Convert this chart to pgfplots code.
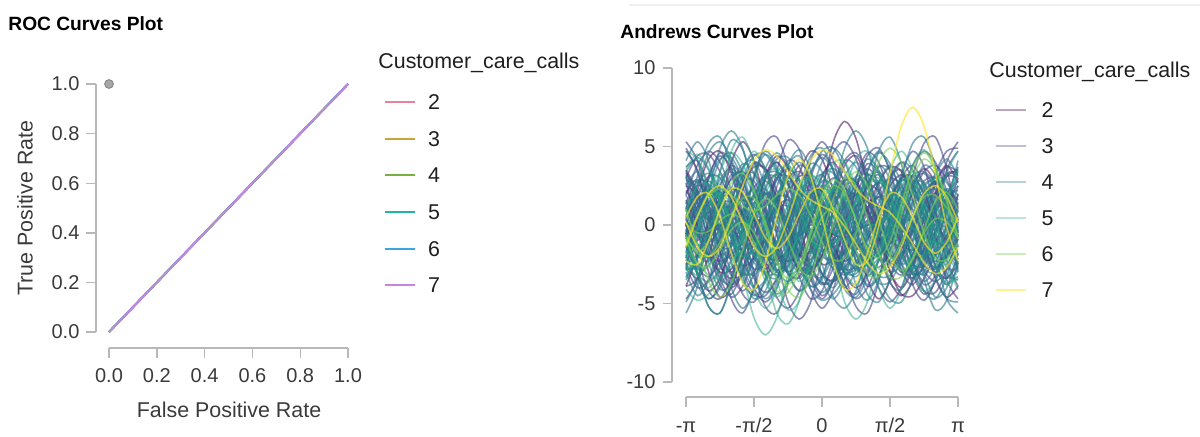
\documentclass[border=0pt]{standalone}
\usepackage{fontspec}
\setmainfont{Liberation Sans}
\usepackage{pgfplots}
\usepackage{pgfplotstable}
\pgfplotsset{compat=1.18}

\definecolor{axgray}{HTML}{B8B8B8}
\definecolor{txtgray}{HTML}{3A3A3A}
% ROC palette
\definecolor{r2}{HTML}{E8829A}
\definecolor{r3}{HTML}{C8A539}
\definecolor{r4}{HTML}{77B03F}
\definecolor{r5}{HTML}{1EB5A5}
\definecolor{r6}{HTML}{3AA6DD}
\definecolor{r7}{HTML}{C685DE}
% viridis for the Andrews curves
\definecolor{v2}{HTML}{440154}
\definecolor{v3}{HTML}{414487}
\definecolor{v4}{HTML}{2A788E}
\definecolor{v5}{HTML}{22A884}
\definecolor{v6}{HTML}{7AD151}
\definecolor{v7}{HTML}{FDE725}

% Andrews curves, one column per observation, t from -pi to pi
\pgfplotstableread{
t c1 c2 c3 c4 c5 c6 c7 c8 c9 c10 c11 c12 c13 c14 c15 c16 c17 c18 c19 c20 c21 c22 c23 c24 c25 c26 c27 c28 c29 c30
-3.1416 3.5 -2.5 0 0.5 1.4 -2.5 -3.3 1.4 3.4 -0.7 -4.9 1.9 0.1 0.9 0.4 2.0 0.4 -2.9 -1.1 -2.5 2.8 2.7 -2.3 -1.4 -1.9 -0.1 4.7 -1.4 -0.9 -0.5
-2.8798 2.1 -1.9 -1.6 2.6 1.0 -3.4 -2.1 2.8 1.6 -3.1 -3.4 3.8 -2.2 -0.2 3.1 2.9 -1.2 -2.2 0.6 -3.2 2.7 -0.1 -2.5 0.5 -0.4 0.5 3.5 0.5 -2.5 -1.8
-2.6180 -0.4 -0.3 -2.0 3.3 0.3 -2.0 -0.5 2.6 -1.0 -4.2 -0.9 4.7 -4.2 -0.8 5.2 1.3 -1.9 -0.3 1.9 -2.2 1.6 -3.0 -1.0 2.0 1.3 0.4 0.6 2.0 -2.6 -2.0
-2.3562 -2.6 1.3 -0.8 2.2 0 1.0 0.4 1.0 -3.4 -3.4 1.7 4.0 -4.7 -1.1 5.6 -1.8 -1.1 1.5 2.3 -0.3 0.3 -4.6 1.0 2.0 2.0 -0.3 -2.4 2.5 -1.6 -0.5
-2.0944 -3.4 1.4 1.5 -0.3 0.3 4.0 0.2 -0.8 -4.6 -1.2 3.2 2.2 -3.3 -1.2 3.6 -4.7 0.8 2.1 1.9 1.3 -0.1 -4.0 2.3 0.1 1.3 -0.7 -3.8 1.8 -0.3 1.8
-1.8326 -2.1 -0.3 3.6 -2.7 1.0 5.3 -0.8 -1.6 -3.9 0.9 3.2 0.3 -0.7 -1.7 0.1 -5.6 3.0 1.0 1.2 1.4 0.6 -1.8 2.1 -3.1 -0.4 -0.3 -2.9 0.2 0.2 3.7
-1.5708 0.5 -3.0 4.5 -4.0 1.4 4.1 -1.8 -0.8 -2.0 1.8 1.9 -0.6 1.8 -2.4 -3.2 -3.9 4.4 -1.3 0.9 -0.3 2.0 0.7 0.7 -5.9 -1.9 1.1 -0.3 -1.4 -0.5 4.1
-1.3090 3.1 -5.2 3.6 -3.5 1.0 1.3 -2.0 1.1 0.2 0.8 0.1 -0.1 2.8 -3.2 -4.7 -0.3 4.5 -3.6 1.2 -3.1 3.1 2.0 -0.8 -7.0 -2.3 2.9 2.3 -2.0 -2.0 2.4
-1.0472 4.4 -5.6 1.5 -1.8 -0.3 -1.7 -1.1 2.9 1.7 -1.3 -1.1 1.5 1.8 -3.4 -3.7 3.4 3.4 -4.6 1.9 -5.6 3.0 1.6 -1.5 -5.9 -1.1 4.2 3.2 -1.4 -3.4 -0.5
-0.7854 3.6 -3.7 -0.8 0.1 -2.0 -3.0 0.5 3.6 1.8 -3.1 -1.2 3.0 -0.7 -2.6 -0.9 5.4 1.9 -3.7 2.3 -6.3 1.4 -0.1 -0.8 -3.1 1.0 4.3 1.8 0.4 -3.8 -3.1
-0.5236 1.4 -0.3 -2.0 0.7 -3.1 -2.0 1.7 2.8 0.7 -3.3 -0.4 3.4 -3.3 -0.8 2.2 4.8 0.7 -1.6 1.9 -4.8 -1.2 -1.8 0.7 0.1 2.7 2.9 -1.2 2.5 -2.9 -4.2
-0.2618 -1.1 3.0 -1.6 -0.3 -3.0 0.6 1.7 0.9 -0.9 -1.3 0.7 2.5 -4.7 1.3 3.9 2.3 0.3 0.7 0.6 -1.7 -3.4 -2.2 2.1 2.0 2.8 0.6 -4.1 4.1 -1.1 -3.1
0 -2.5 4.5 0 -2.5 -1.4 3.1 0.2 -0.8 -2.0 2.1 1.3 0.5 -4.2 3.1 3.4 -0.7 0.4 1.7 -1.1 1.7 -4.3 -0.9 2.3 2.0 0.9 -1.5 -5.3 4.8 0.5 -0.5
0.2618 -2.1 3.5 1.9 -4.6 1.0 4.0 -2.1 -1.2 -2.2 5.3 0.9 -1.4 -2.2 3.6 1.1 -2.3 0.5 1.0 -2.2 3.9 -3.5 1.6 1.0 0.5 -2.1 -2.5 -4.1 4.4 1.1 2.4
0.5236 -0.4 0.8 3.0 -5.3 3.1 2.6 -4.1 0.1 -1.6 6.6 -0.1 -2.3 0.1 2.8 -1.4 -1.7 0.1 -0.9 -2.1 4.0 -1.4 3.8 -1.0 -1.4 -4.9 -2.0 -1.2 3.4 0.2 4.1
0.7854 1.6 -2.3 2.8 -4.2 4.0 -0.4 -4.6 2.4 -0.6 5.5 -1.2 -1.6 1.3 1.1 -2.9 0.4 -1.1 -2.7 -0.5 2.5 0.9 4.4 -2.5 -2.5 -6.0 -0.3 1.8 2.3 -1.6 3.7
1.0472 2.6 -3.9 1.5 -1.8 3.1 -3.4 -3.3 4.4 0.0 2.6 -1.6 0.2 0.9 -0.8 -2.4 2.5 -2.6 -3.3 1.9 0.5 2.0 2.8 -2.3 -2.1 -4.9 1.7 3.2 1.6 -3.1 1.8
1.3090 2.1 -3.3 0.1 0.7 1.0 -4.7 -0.8 4.9 -0.1 -0.5 -1.2 2.1 -0.7 -1.8 -0.4 3.2 -3.7 -2.2 4.0 -0.7 1.6 -0.1 -0.1 -0.5 -2.1 2.8 2.3 1.2 -3.3 -0.5
1.5708 0.5 -1.0 -0.5 2.0 -1.4 -3.5 1.7 3.4 -0.6 -2.4 -0.3 3.0 -2.5 -1.6 1.8 1.8 -3.6 0.1 4.9 -0.5 -0.1 -2.9 3.3 1.3 0.9 2.5 -0.3 0.8 -1.9 -2.0
1.8326 -1.1 1.6 0.1 1.5 -3.0 -0.7 3.0 0.5 -0.8 -2.1 0.4 2.5 -3.2 -0.3 2.9 -1.1 -2.2 2.4 4.0 0.8 -1.9 -4.0 6.3 2.0 2.8 1.1 -2.9 -0.1 0.6 -1.8
2.0944 -1.6 3.1 1.5 -0.3 -3.1 2.3 2.5 -2.3 -0.3 -0.3 0.1 0.9 -2.5 1.4 2.3 -3.8 0.0 3.4 1.9 2.2 -2.8 -2.8 7.5 1.3 2.7 -0.6 -3.8 -1.2 3.0 -0.5
2.3562 -0.6 2.7 2.8 -2.1 -2.0 3.6 0.5 -3.8 1.0 1.8 -1.3 -0.6 -0.7 2.6 0.6 -4.8 1.9 2.5 -0.5 2.5 -2.2 -0.1 6.3 -0.5 1.0 -1.8 -2.4 -2.4 4.2 1.1
2.6180 1.4 0.8 3.0 -2.7 -0.3 2.6 -1.8 -3.2 2.7 2.7 -3.3 -1.0 0.9 2.8 -1.0 -3.5 2.7 0.4 -2.1 1.4 -0.4 2.6 3.3 -2.1 -1.1 -1.9 0.6 -3.1 3.5 1.8
2.8798 3.1 -1.4 1.9 -1.7 1.0 0.0 -3.3 -1.0 3.7 1.7 -4.7 -0.1 1.3 2.1 -1.2 -0.7 2.0 -1.9 -2.2 -0.6 1.6 3.8 -0.1 -2.5 -2.3 -1.1 3.5 -2.7 1.5 1.1
3.1416 3.5 -2.5 0 0.5 1.4 -2.5 -3.3 1.4 3.4 -0.7 -4.9 1.9 0.1 0.9 0.4 2.0 0.4 -2.9 -1.1 -2.5 2.8 2.7 -2.3 -1.4 -1.9 -0.1 4.7 -1.4 -0.9 -0.5
}\andrewsA

\pgfplotstableread{
t c1 c2 c3 c4 c5 c6 c7 c8 c9 c10 c11 c12 c13 c14 c15 c16 c17 c18 c19 c20 c21 c22 c23 c24 c25 c26 c27 c28 c29 c30
-3.1416 -3.5 2.5 0 -0.5 -1.4 2.5 3.3 -1.4 -3.4 0.7 4.9 -1.9 -0.1 -0.9 -0.4 -2.0 -0.4 2.9 1.1 2.5 -2.8 -2.7 2.3 1.4 1.9 0.1 -4.7 1.4 0.9 0.5
-2.8798 -2.1 1.9 1.6 -2.6 -1.0 3.4 2.1 -2.8 -1.6 3.1 3.4 -3.8 2.2 0.2 -3.1 -2.9 1.2 2.2 -0.6 3.2 -2.7 0.1 2.5 -0.5 0.4 -0.5 -3.5 -0.5 2.5 1.8
-2.6180 0.4 0.3 2.0 -3.3 -0.3 2.0 0.5 -2.6 1.0 4.2 0.9 -4.7 4.2 0.8 -5.2 -1.3 1.9 0.3 -1.9 2.2 -1.6 3.0 1.0 -2.0 -1.3 -0.4 -0.6 -2.0 2.6 2.0
-2.3562 2.6 -1.3 0.8 -2.2 0 -1.0 -0.4 -1.0 3.4 3.4 -1.7 -4.0 4.7 1.1 -5.6 1.8 1.1 -1.5 -2.3 0.3 -0.3 4.6 -1.0 -2.0 -2.0 0.3 2.4 -2.5 1.6 0.5
-2.0944 3.4 -1.4 -1.5 0.3 -0.3 -4.0 -0.2 0.8 4.6 1.2 -3.2 -2.2 3.3 1.2 -3.6 4.7 -0.8 -2.1 -1.9 -1.3 0.1 4.0 -2.3 -0.1 -1.3 0.7 3.8 -1.8 0.3 -1.8
-1.8326 2.1 0.3 -3.6 2.7 -1.0 -5.3 0.8 1.6 3.9 -0.9 -3.2 -0.3 0.7 1.7 -0.1 5.6 -3.0 -1.0 -1.2 -1.4 -0.6 1.8 -2.1 3.1 0.4 0.3 2.9 -0.2 -0.2 -3.7
-1.5708 -0.5 3.0 -4.5 4.0 -1.4 -4.1 1.8 0.8 2.0 -1.8 -1.9 0.6 -1.8 2.4 3.2 3.9 -4.4 1.3 -0.9 0.3 -2.0 -0.7 -0.7 5.9 1.9 -1.1 0.3 1.4 0.5 -4.1
-1.3090 -3.1 5.2 -3.6 3.5 -1.0 -1.3 2.0 -1.1 -0.2 -0.8 -0.1 0.1 -2.8 3.2 4.7 0.3 -4.5 3.6 -1.2 3.1 -3.1 -2.0 0.8 7.0 2.3 -2.9 -2.3 2.0 2.0 -2.4
-1.0472 -4.4 5.6 -1.5 1.8 0.3 1.7 1.1 -2.9 -1.7 1.3 1.1 -1.5 -1.8 3.4 3.7 -3.4 -3.4 4.6 -1.9 5.6 -3.0 -1.6 1.5 5.9 1.1 -4.2 -3.2 1.4 3.4 0.5
-0.7854 -3.6 3.7 0.8 -0.1 2.0 3.0 -0.5 -3.6 -1.8 3.1 1.2 -3.0 0.7 2.6 0.9 -5.4 -1.9 3.7 -2.3 6.3 -1.4 0.1 0.8 3.1 -1.0 -4.3 -1.8 -0.4 3.8 3.1
-0.5236 -1.4 0.3 2.0 -0.7 3.1 2.0 -1.7 -2.8 -0.7 3.3 0.4 -3.4 3.3 0.8 -2.2 -4.8 -0.7 1.6 -1.9 4.8 1.2 1.8 -0.7 -0.1 -2.7 -2.9 1.2 -2.5 2.9 4.2
-0.2618 1.1 -3.0 1.6 0.3 3.0 -0.6 -1.7 -0.9 0.9 1.3 -0.7 -2.5 4.7 -1.3 -3.9 -2.3 -0.3 -0.7 -0.6 1.7 3.4 2.2 -2.1 -2.0 -2.8 -0.6 4.1 -4.1 1.1 3.1
0 2.5 -4.5 0 2.5 1.4 -3.1 -0.2 0.8 2.0 -2.1 -1.3 -0.5 4.2 -3.1 -3.4 0.7 -0.4 -1.7 1.1 -1.7 4.3 0.9 -2.3 -2.0 -0.9 1.5 5.3 -4.8 -0.5 0.5
0.2618 2.1 -3.5 -1.9 4.6 -1.0 -4.0 2.1 1.2 2.2 -5.3 -0.9 1.4 2.2 -3.6 -1.1 2.3 -0.5 -1.0 2.2 -3.9 3.5 -1.6 -1.0 -0.5 2.1 2.5 4.1 -4.4 -1.1 -2.4
0.5236 0.4 -0.8 -3.0 5.3 -3.1 -2.6 4.1 -0.1 1.6 -6.6 0.1 2.3 -0.1 -2.8 1.4 1.7 -0.1 0.9 2.1 -4.0 1.4 -3.8 1.0 1.4 4.9 2.0 1.2 -3.4 -0.2 -4.1
0.7854 -1.6 2.3 -2.8 4.2 -4.0 0.4 4.6 -2.4 0.6 -5.5 1.2 1.6 -1.3 -1.1 2.9 -0.4 1.1 2.7 0.5 -2.5 -0.9 -4.4 2.5 2.5 6.0 0.3 -1.8 -2.3 1.6 -3.7
1.0472 -2.6 3.9 -1.5 1.8 -3.1 3.4 3.3 -4.4 0.0 -2.6 1.6 -0.2 -0.9 0.8 2.4 -2.5 2.6 3.3 -1.9 -0.5 -2.0 -2.8 2.3 2.1 4.9 -1.7 -3.2 -1.6 3.1 -1.8
1.3090 -2.1 3.3 -0.1 -0.7 -1.0 4.7 0.8 -4.9 0.1 0.5 1.2 -2.1 0.7 1.8 0.4 -3.2 3.7 2.2 -4.0 0.7 -1.6 0.1 0.1 0.5 2.1 -2.8 -2.3 -1.2 3.3 0.5
1.5708 -0.5 1.0 0.5 -2.0 1.4 3.5 -1.7 -3.4 0.6 2.4 0.3 -3.0 2.5 1.6 -1.8 -1.8 3.6 -0.1 -4.9 0.5 0.1 2.9 -3.3 -1.3 -0.9 -2.5 0.3 -0.8 1.9 2.0
1.8326 1.1 -1.6 -0.1 -1.5 3.0 0.7 -3.0 -0.5 0.8 2.1 -0.4 -2.5 3.2 0.3 -2.9 1.1 2.2 -2.4 -4.0 -0.8 1.9 4.0 -6.3 -2.0 -2.8 -1.1 2.9 0.1 -0.6 1.8
2.0944 1.6 -3.1 -1.5 0.3 3.1 -2.3 -2.5 2.3 0.3 0.3 -0.1 -0.9 2.5 -1.4 -2.3 3.8 0.0 -3.4 -1.9 -2.2 2.8 2.8 -7.5 -1.3 -2.7 0.6 3.8 1.2 -3.0 0.5
2.3562 0.6 -2.7 -2.8 2.1 2.0 -3.6 -0.5 3.8 -1.0 -1.8 1.3 0.6 0.7 -2.6 -0.6 4.8 -1.9 -2.5 0.5 -2.5 2.2 0.1 -6.3 0.5 -1.0 1.8 2.4 2.4 -4.2 -1.1
2.6180 -1.4 -0.8 -3.0 2.7 0.3 -2.6 1.8 3.2 -2.7 -2.7 3.3 1.0 -0.9 -2.8 1.0 3.5 -2.7 -0.4 2.1 -1.4 0.4 -2.6 -3.3 2.1 1.1 1.9 -0.6 3.1 -3.5 -1.8
2.8798 -3.1 1.4 -1.9 1.7 -1.0 0.0 3.3 1.0 -3.7 -1.7 4.7 0.1 -1.3 -2.1 1.2 0.7 -2.0 1.9 2.2 0.6 -1.6 -3.8 0.1 2.5 2.3 1.1 -3.5 2.7 -1.5 -1.1
3.1416 -3.5 2.5 0 -0.5 -1.4 2.5 3.3 -1.4 -3.4 0.7 4.9 -1.9 -0.1 -0.9 -0.4 -2.0 -0.4 2.9 1.1 2.5 -2.8 -2.7 2.3 1.4 1.9 0.1 -4.7 1.4 0.9 0.5
}\andrewsB

\pgfplotstableread{
t c1 c2 c3 c4 c5 c6 c7 c8 c9 c10 c11 c12 c13 c14 c15 c16 c17 c18 c19 c20 c21 c22 c23 c24 c25 c26 c27 c28 c29 c30
-3.1416 -2.1 -0.3 3.6 -2.7 1.0 5.3 -0.8 -1.6 -3.9 0.9 3.2 0.3 -0.7 -1.7 0.1 -5.6 3.0 1.0 1.2 1.4 0.6 -1.8 2.1 -3.1 -0.4 -0.3 -2.9 0.2 0.2 3.7
-2.8798 0.5 -3.0 4.5 -4.0 1.4 4.1 -1.8 -0.8 -2.0 1.8 1.9 -0.6 1.8 -2.4 -3.2 -3.9 4.4 -1.3 0.9 -0.3 2.0 0.7 0.7 -5.9 -1.9 1.1 -0.3 -1.4 -0.5 4.1
-2.6180 3.1 -5.2 3.6 -3.5 1.0 1.3 -2.0 1.1 0.2 0.8 0.1 -0.1 2.8 -3.2 -4.7 -0.3 4.5 -3.6 1.2 -3.1 3.1 2.0 -0.8 -7.0 -2.3 2.9 2.3 -2.0 -2.0 2.4
-2.3562 4.4 -5.6 1.5 -1.8 -0.3 -1.7 -1.1 2.9 1.7 -1.3 -1.1 1.5 1.8 -3.4 -3.7 3.4 3.4 -4.6 1.9 -5.6 3.0 1.6 -1.5 -5.9 -1.1 4.2 3.2 -1.4 -3.4 -0.5
-2.0944 3.6 -3.7 -0.8 0.1 -2.0 -3.0 0.5 3.6 1.8 -3.1 -1.2 3.0 -0.7 -2.6 -0.9 5.4 1.9 -3.7 2.3 -6.3 1.4 -0.1 -0.8 -3.1 1.0 4.3 1.8 0.4 -3.8 -3.1
-1.8326 1.4 -0.3 -2.0 0.7 -3.1 -2.0 1.7 2.8 0.7 -3.3 -0.4 3.4 -3.3 -0.8 2.2 4.8 0.7 -1.6 1.9 -4.8 -1.2 -1.8 0.7 0.1 2.7 2.9 -1.2 2.5 -2.9 -4.2
-1.5708 -1.1 3.0 -1.6 -0.3 -3.0 0.6 1.7 0.9 -0.9 -1.3 0.7 2.5 -4.7 1.3 3.9 2.3 0.3 0.7 0.6 -1.7 -3.4 -2.2 2.1 2.0 2.8 0.6 -4.1 4.1 -1.1 -3.1
-1.3090 -2.5 4.5 0 -2.5 -1.4 3.1 0.2 -0.8 -2.0 2.1 1.3 0.5 -4.2 3.1 3.4 -0.7 0.4 1.7 -1.1 1.7 -4.3 -0.9 2.3 2.0 0.9 -1.5 -5.3 4.8 0.5 -0.5
-1.0472 -2.1 3.5 1.9 -4.6 1.0 4.0 -2.1 -1.2 -2.2 5.3 0.9 -1.4 -2.2 3.6 1.1 -2.3 0.5 1.0 -2.2 3.9 -3.5 1.6 1.0 0.5 -2.1 -2.5 -4.1 4.4 1.1 2.4
-0.7854 -0.4 0.8 3.0 -5.3 3.1 2.6 -4.1 0.1 -1.6 6.6 -0.1 -2.3 0.1 2.8 -1.4 -1.7 0.1 -0.9 -2.1 4.0 -1.4 3.8 -1.0 -1.4 -4.9 -2.0 -1.2 3.4 0.2 4.1
-0.5236 1.6 -2.3 2.8 -4.2 4.0 -0.4 -4.6 2.4 -0.6 5.5 -1.2 -1.6 1.3 1.1 -2.9 0.4 -1.1 -2.7 -0.5 2.5 0.9 4.4 -2.5 -2.5 -6.0 -0.3 1.8 2.3 -1.6 3.7
-0.2618 2.6 -3.9 1.5 -1.8 3.1 -3.4 -3.3 4.4 0.0 2.6 -1.6 0.2 0.9 -0.8 -2.4 2.5 -2.6 -3.3 1.9 0.5 2.0 2.8 -2.3 -2.1 -4.9 1.7 3.2 1.6 -3.1 1.8
0 2.1 -3.3 0.1 0.7 1.0 -4.7 -0.8 4.9 -0.1 -0.5 -1.2 2.1 -0.7 -1.8 -0.4 3.2 -3.7 -2.2 4.0 -0.7 1.6 -0.1 -0.1 -0.5 -2.1 2.8 2.3 1.2 -3.3 -0.5
0.2618 0.5 -1.0 -0.5 2.0 -1.4 -3.5 1.7 3.4 -0.6 -2.4 -0.3 3.0 -2.5 -1.6 1.8 1.8 -3.6 0.1 4.9 -0.5 -0.1 -2.9 3.3 1.3 0.9 2.5 -0.3 0.8 -1.9 -2.0
0.5236 -1.1 1.6 0.1 1.5 -3.0 -0.7 3.0 0.5 -0.8 -2.1 0.4 2.5 -3.2 -0.3 2.9 -1.1 -2.2 2.4 4.0 0.8 -1.9 -4.0 6.3 2.0 2.8 1.1 -2.9 -0.1 0.6 -1.8
0.7854 -1.6 3.1 1.5 -0.3 -3.1 2.3 2.5 -2.3 -0.3 -0.3 0.1 0.9 -2.5 1.4 2.3 -3.8 0.0 3.4 1.9 2.2 -2.8 -2.8 7.5 1.3 2.7 -0.6 -3.8 -1.2 3.0 -0.5
1.0472 -0.6 2.7 2.8 -2.1 -2.0 3.6 0.5 -3.8 1.0 1.8 -1.3 -0.6 -0.7 2.6 0.6 -4.8 1.9 2.5 -0.5 2.5 -2.2 -0.1 6.3 -0.5 1.0 -1.8 -2.4 -2.4 4.2 1.1
1.3090 1.4 0.8 3.0 -2.7 -0.3 2.6 -1.8 -3.2 2.7 2.7 -3.3 -1.0 0.9 2.8 -1.0 -3.5 2.7 0.4 -2.1 1.4 -0.4 2.6 3.3 -2.1 -1.1 -1.9 0.6 -3.1 3.5 1.8
1.5708 3.1 -1.4 1.9 -1.7 1.0 0.0 -3.3 -1.0 3.7 1.7 -4.7 -0.1 1.3 2.1 -1.2 -0.7 2.0 -1.9 -2.2 -0.6 1.6 3.8 -0.1 -2.5 -2.3 -1.1 3.5 -2.7 1.5 1.1
1.8326 3.5 -2.5 0 0.5 1.4 -2.5 -3.3 1.4 3.4 -0.7 -4.9 1.9 0.1 0.9 0.4 2.0 0.4 -2.9 -1.1 -2.5 2.8 2.7 -2.3 -1.4 -1.9 -0.1 4.7 -1.4 -0.9 -0.5
2.0944 2.1 -1.9 -1.6 2.6 1.0 -3.4 -2.1 2.8 1.6 -3.1 -3.4 3.8 -2.2 -0.2 3.1 2.9 -1.2 -2.2 0.6 -3.2 2.7 -0.1 -2.5 0.5 -0.4 0.5 3.5 0.5 -2.5 -1.8
2.3562 -0.4 -0.3 -2.0 3.3 0.3 -2.0 -0.5 2.6 -1.0 -4.2 -0.9 4.7 -4.2 -0.8 5.2 1.3 -1.9 -0.3 1.9 -2.2 1.6 -3.0 -1.0 2.0 1.3 0.4 0.6 2.0 -2.6 -2.0
2.6180 -2.6 1.3 -0.8 2.2 0 1.0 0.4 1.0 -3.4 -3.4 1.7 4.0 -4.7 -1.1 5.6 -1.8 -1.1 1.5 2.3 -0.3 0.3 -4.6 1.0 2.0 2.0 -0.3 -2.4 2.5 -1.6 -0.5
2.8798 -3.4 1.4 1.5 -0.3 0.3 4.0 0.2 -0.8 -4.6 -1.2 3.2 2.2 -3.3 -1.2 3.6 -4.7 0.8 2.1 1.9 1.3 -0.1 -4.0 2.3 0.1 1.3 -0.7 -3.8 1.8 -0.3 1.8
3.1416 -2.1 -0.3 3.6 -2.7 1.0 5.3 -0.8 -1.6 -3.9 0.9 3.2 0.3 -0.7 -1.7 0.1 -5.6 3.0 1.0 1.2 1.4 0.6 -1.8 2.1 -3.1 -0.4 -0.3 -2.9 0.2 0.2 3.7
}\andrewsC

\pgfplotstableread{
t c1 c2 c3 c4 c5 c6 c7 c8 c9 c10 c11 c12 c13 c14 c15 c16 c17 c18 c19 c20 c21 c22 c23 c24 c25 c26 c27 c28 c29 c30
-3.1416 1.1 -3.0 1.6 0.3 3.0 -0.6 -1.7 -0.9 0.9 1.3 -0.7 -2.5 4.7 -1.3 -3.9 -2.3 -0.3 -0.7 -0.6 1.7 3.4 2.2 -2.1 -2.0 -2.8 -0.6 4.1 -4.1 1.1 3.1
-2.8798 2.5 -4.5 0 2.5 1.4 -3.1 -0.2 0.8 2.0 -2.1 -1.3 -0.5 4.2 -3.1 -3.4 0.7 -0.4 -1.7 1.1 -1.7 4.3 0.9 -2.3 -2.0 -0.9 1.5 5.3 -4.8 -0.5 0.5
-2.6180 2.1 -3.5 -1.9 4.6 -1.0 -4.0 2.1 1.2 2.2 -5.3 -0.9 1.4 2.2 -3.6 -1.1 2.3 -0.5 -1.0 2.2 -3.9 3.5 -1.6 -1.0 -0.5 2.1 2.5 4.1 -4.4 -1.1 -2.4
-2.3562 0.4 -0.8 -3.0 5.3 -3.1 -2.6 4.1 -0.1 1.6 -6.6 0.1 2.3 -0.1 -2.8 1.4 1.7 -0.1 0.9 2.1 -4.0 1.4 -3.8 1.0 1.4 4.9 2.0 1.2 -3.4 -0.2 -4.1
-2.0944 -1.6 2.3 -2.8 4.2 -4.0 0.4 4.6 -2.4 0.6 -5.5 1.2 1.6 -1.3 -1.1 2.9 -0.4 1.1 2.7 0.5 -2.5 -0.9 -4.4 2.5 2.5 6.0 0.3 -1.8 -2.3 1.6 -3.7
-1.8326 -2.6 3.9 -1.5 1.8 -3.1 3.4 3.3 -4.4 0.0 -2.6 1.6 -0.2 -0.9 0.8 2.4 -2.5 2.6 3.3 -1.9 -0.5 -2.0 -2.8 2.3 2.1 4.9 -1.7 -3.2 -1.6 3.1 -1.8
-1.5708 -2.1 3.3 -0.1 -0.7 -1.0 4.7 0.8 -4.9 0.1 0.5 1.2 -2.1 0.7 1.8 0.4 -3.2 3.7 2.2 -4.0 0.7 -1.6 0.1 0.1 0.5 2.1 -2.8 -2.3 -1.2 3.3 0.5
-1.3090 -0.5 1.0 0.5 -2.0 1.4 3.5 -1.7 -3.4 0.6 2.4 0.3 -3.0 2.5 1.6 -1.8 -1.8 3.6 -0.1 -4.9 0.5 0.1 2.9 -3.3 -1.3 -0.9 -2.5 0.3 -0.8 1.9 2.0
-1.0472 1.1 -1.6 -0.1 -1.5 3.0 0.7 -3.0 -0.5 0.8 2.1 -0.4 -2.5 3.2 0.3 -2.9 1.1 2.2 -2.4 -4.0 -0.8 1.9 4.0 -6.3 -2.0 -2.8 -1.1 2.9 0.1 -0.6 1.8
-0.7854 1.6 -3.1 -1.5 0.3 3.1 -2.3 -2.5 2.3 0.3 0.3 -0.1 -0.9 2.5 -1.4 -2.3 3.8 0.0 -3.4 -1.9 -2.2 2.8 2.8 -7.5 -1.3 -2.7 0.6 3.8 1.2 -3.0 0.5
-0.5236 0.6 -2.7 -2.8 2.1 2.0 -3.6 -0.5 3.8 -1.0 -1.8 1.3 0.6 0.7 -2.6 -0.6 4.8 -1.9 -2.5 0.5 -2.5 2.2 0.1 -6.3 0.5 -1.0 1.8 2.4 2.4 -4.2 -1.1
-0.2618 -1.4 -0.8 -3.0 2.7 0.3 -2.6 1.8 3.2 -2.7 -2.7 3.3 1.0 -0.9 -2.8 1.0 3.5 -2.7 -0.4 2.1 -1.4 0.4 -2.6 -3.3 2.1 1.1 1.9 -0.6 3.1 -3.5 -1.8
0 -3.1 1.4 -1.9 1.7 -1.0 0.0 3.3 1.0 -3.7 -1.7 4.7 0.1 -1.3 -2.1 1.2 0.7 -2.0 1.9 2.2 0.6 -1.6 -3.8 0.1 2.5 2.3 1.1 -3.5 2.7 -1.5 -1.1
0.2618 -3.5 2.5 0 -0.5 -1.4 2.5 3.3 -1.4 -3.4 0.7 4.9 -1.9 -0.1 -0.9 -0.4 -2.0 -0.4 2.9 1.1 2.5 -2.8 -2.7 2.3 1.4 1.9 0.1 -4.7 1.4 0.9 0.5
0.5236 -2.1 1.9 1.6 -2.6 -1.0 3.4 2.1 -2.8 -1.6 3.1 3.4 -3.8 2.2 0.2 -3.1 -2.9 1.2 2.2 -0.6 3.2 -2.7 0.1 2.5 -0.5 0.4 -0.5 -3.5 -0.5 2.5 1.8
0.7854 0.4 0.3 2.0 -3.3 -0.3 2.0 0.5 -2.6 1.0 4.2 0.9 -4.7 4.2 0.8 -5.2 -1.3 1.9 0.3 -1.9 2.2 -1.6 3.0 1.0 -2.0 -1.3 -0.4 -0.6 -2.0 2.6 2.0
1.0472 2.6 -1.3 0.8 -2.2 0 -1.0 -0.4 -1.0 3.4 3.4 -1.7 -4.0 4.7 1.1 -5.6 1.8 1.1 -1.5 -2.3 0.3 -0.3 4.6 -1.0 -2.0 -2.0 0.3 2.4 -2.5 1.6 0.5
1.3090 3.4 -1.4 -1.5 0.3 -0.3 -4.0 -0.2 0.8 4.6 1.2 -3.2 -2.2 3.3 1.2 -3.6 4.7 -0.8 -2.1 -1.9 -1.3 0.1 4.0 -2.3 -0.1 -1.3 0.7 3.8 -1.8 0.3 -1.8
1.5708 2.1 0.3 -3.6 2.7 -1.0 -5.3 0.8 1.6 3.9 -0.9 -3.2 -0.3 0.7 1.7 -0.1 5.6 -3.0 -1.0 -1.2 -1.4 -0.6 1.8 -2.1 3.1 0.4 0.3 2.9 -0.2 -0.2 -3.7
1.8326 -0.5 3.0 -4.5 4.0 -1.4 -4.1 1.8 0.8 2.0 -1.8 -1.9 0.6 -1.8 2.4 3.2 3.9 -4.4 1.3 -0.9 0.3 -2.0 -0.7 -0.7 5.9 1.9 -1.1 0.3 1.4 0.5 -4.1
2.0944 -3.1 5.2 -3.6 3.5 -1.0 -1.3 2.0 -1.1 -0.2 -0.8 -0.1 0.1 -2.8 3.2 4.7 0.3 -4.5 3.6 -1.2 3.1 -3.1 -2.0 0.8 7.0 2.3 -2.9 -2.3 2.0 2.0 -2.4
2.3562 -4.4 5.6 -1.5 1.8 0.3 1.7 1.1 -2.9 -1.7 1.3 1.1 -1.5 -1.8 3.4 3.7 -3.4 -3.4 4.6 -1.9 5.6 -3.0 -1.6 1.5 5.9 1.1 -4.2 -3.2 1.4 3.4 0.5
2.6180 -3.6 3.7 0.8 -0.1 2.0 3.0 -0.5 -3.6 -1.8 3.1 1.2 -3.0 0.7 2.6 0.9 -5.4 -1.9 3.7 -2.3 6.3 -1.4 0.1 0.8 3.1 -1.0 -4.3 -1.8 -0.4 3.8 3.1
2.8798 -1.4 0.3 2.0 -0.7 3.1 2.0 -1.7 -2.8 -0.7 3.3 0.4 -3.4 3.3 0.8 -2.2 -4.8 -0.7 1.6 -1.9 4.8 1.2 1.8 -0.7 -0.1 -2.7 -2.9 1.2 -2.5 2.9 4.2
3.1416 1.1 -3.0 1.6 0.3 3.0 -0.6 -1.7 -0.9 0.9 1.3 -0.7 -2.5 4.7 -1.3 -3.9 -2.3 -0.3 -0.7 -0.6 1.7 3.4 2.2 -2.1 -2.0 -2.8 -0.6 4.1 -4.1 1.1 3.1
}\andrewsD

\pgfplotsset{
  rbase/.style={
    scale only axis,
    axis x line*=bottom, axis y line*=left,
    axis line style={draw=none},
    tick align=outside,
    major tick length=4.75pt,
    tick style={axgray, line width=0.7pt},
    tick label style={font=\fontsize{10}{12}\selectfont, text=txtgray},
    label style={font=\fontsize{10.7}{12}\selectfont, text=txtgray},
    clip=false,
    legend image code/.code={\draw[##1] (0pt,0pt) -- (15pt,0pt);},
  },
  leg/.style={
    draw=none, fill=none, inner sep=0pt, outer sep=0pt,
    font=\fontsize{10.7}{12}\selectfont, text=black!88,
    cells={anchor=west},
    nodes={inner sep=0pt, text height=7.6pt, text depth=0pt},
    row sep=10.7pt,
    /tikz/every odd column/.append style={column sep=6pt},
  },
  g2/.style={v2, line width=0.8pt, opacity=0.55, smooth, forget plot},
  g3/.style={v3, line width=0.8pt, opacity=0.6, smooth, forget plot},
  g4/.style={v4, line width=0.8pt, opacity=0.6, smooth, forget plot},
  g5/.style={v5, line width=0.8pt, opacity=0.5, smooth, forget plot},
  g6/.style={v6, line width=0.8pt, opacity=0.6, smooth, forget plot},
  g7/.style={v7, line width=0.8pt, opacity=0.65, smooth, forget plot},
}

\begin{document}
\begin{tikzpicture}
\path[use as bounding box] (0,0) rectangle (600pt,-218pt);

% ---------------- ROC ----------------
\node[anchor=west, inner sep=0pt, font=\fontsize{9.6}{11}\selectfont\bfseries] at (4pt,-12pt) {ROC Curves Plot};
\node[anchor=west, inner sep=0pt, font=\fontsize{10.7}{12}\selectfont, text=black!88] at (189pt,-31.5pt) {Customer\_care\_calls};

\begin{axis}[rbase,
  at={(48pt,-174pt)}, anchor=south west,
  width=126pt, height=132pt,
  xmin=-0.0544, xmax=1, ymin=-0.0645, ymax=1,
  xtick={0,0.2,0.4,0.6,0.8,1}, xticklabels={0.0,0.2,0.4,0.6,0.8,1.0},
  ytick={0,0.2,0.4,0.6,0.8,1}, yticklabels={0.0,0.2,0.4,0.6,0.8,1.0},
  xticklabel style={yshift=-2pt},
  xlabel={False Positive Rate}, ylabel={True Positive Rate},
  xlabel style={at={(axis description cs:0.528,-0.235)}, anchor=center},
  ylabel style={at={(axis description cs:-0.282,0.530)}, anchor=center},
  legend style={leg, at={(axis description cs:1.1429,0.9602)}, anchor=north west},
]
\addplot[r2, line width=1pt] coordinates {(0,0) (1,1)};
\addlegendentry{2}
\addplot[r3, line width=1pt] coordinates {(0,0) (1,1)};
\addlegendentry{3}
\addplot[r4, line width=1pt] coordinates {(0,0) (1,1)};
\addlegendentry{4}
\addplot[r5, line width=1pt] coordinates {(0,0) (1,1)};
\addlegendentry{5}
\addplot[r6, line width=1pt] coordinates {(0,0) (1,1)};
\addlegendentry{6}
\addplot[r7, line width=1pt] coordinates {(0,0) (1,1)};
\addlegendentry{7}
\addplot[only marks, mark=*, mark size=2.2pt, mark options={fill=gray!70, draw=gray}, forget plot] coordinates {(0,1)};
% R style detached axis lines
\draw[axgray, line width=0.7pt] (axis cs:-0.0544,0) -- (axis cs:-0.0544,1);
\draw[axgray, line width=0.7pt] (axis cs:0,-0.0645) -- (axis cs:1,-0.0645);
\end{axis}

% ---------------- Andrews ----------------
\draw[gray!12, line width=0.6pt] (314.5pt,-2.5pt) -- (600pt,-2.5pt);
\node[anchor=west, inner sep=0pt, font=\fontsize{9.6}{11}\selectfont\bfseries] at (310pt,-16pt) {Andrews Curves Plot};
\node[anchor=west, inner sep=0pt, font=\fontsize{10.7}{12}\selectfont, text=black!88] at (494.5pt,-36pt) {Customer\_care\_calls};

\begin{axis}[rbase,
  at={(336pt,-198.5pt)}, anchor=south west,
  width=143pt, height=164.5pt,
  xmin=-3.465, xmax=3.1416, ymin=-10.955, ymax=10,
  xtick={-3.1416,-1.5708,0,1.5708,3.1416}, xticklabels={-π,-π/2,0,π/2,π},
  xticklabel style={text height=7.3pt, text depth=0pt, yshift=-2pt},
  ytick={-10,-5,0,5,10}, yticklabels={-10,-5,0,5,10},
  legend style={leg, row sep=10.4pt, at={(axis description cs:1.1294,0.8951)}, anchor=north west,
    /tikz/every odd column/.append style={column sep=7.5pt}},
]
% class 2
\pgfplotsinvokeforeach{1,6,10,22}{\addplot[g2] table[x=t, y=c#1] {\andrewsA};}
\pgfplotsinvokeforeach{5,13}{\addplot[g2] table[x=t, y=c#1] {\andrewsB};}
\pgfplotsinvokeforeach{9}{\addplot[g2] table[x=t, y=c#1] {\andrewsC};}
\pgfplotsinvokeforeach{3,17}{\addplot[g2] table[x=t, y=c#1] {\andrewsD};}
% class 3
\pgfplotsinvokeforeach{2,3,8,9,12,13,16,27}{\addplot[g3] table[x=t, y=c#1] {\andrewsA};}
\pgfplotsinvokeforeach{2,4,7,11,14,17,19,22,27}{\addplot[g3] table[x=t, y=c#1] {\andrewsB};}
\pgfplotsinvokeforeach{1,4,6,12,15,17,21,25,30}{\addplot[g3] table[x=t, y=c#1] {\andrewsC};}
\pgfplotsinvokeforeach{1,5,8,12,15,19,22,26,29}{\addplot[g3] table[x=t, y=c#1] {\andrewsD};}
% class 4
\pgfplotsinvokeforeach{4,5,7,11,14,15,17,21,26,30}{\addplot[g4] table[x=t, y=c#1] {\andrewsA};}
\pgfplotsinvokeforeach{1,3,6,8,12,15,18,21,25,28}{\addplot[g4] table[x=t, y=c#1] {\andrewsB};}
\pgfplotsinvokeforeach{2,5,8,11,13,16,19,22,26,29}{\addplot[g4] table[x=t, y=c#1] {\andrewsC};}
\pgfplotsinvokeforeach{2,4,7,9,11,14,16,21,25,27,30}{\addplot[g4] table[x=t, y=c#1] {\andrewsD};}
% class 5
\pgfplotsinvokeforeach{18,20,24,25}{\addplot[g5] table[x=t, y=c#1] {\andrewsA};}
\pgfplotsinvokeforeach{9,16,29}{\addplot[g5] table[x=t, y=c#1] {\andrewsB};}
\pgfplotsinvokeforeach{3,14,27}{\addplot[g5] table[x=t, y=c#1] {\andrewsC};}
\pgfplotsinvokeforeach{6,13,28}{\addplot[g5] table[x=t, y=c#1] {\andrewsD};}
% class 6
\pgfplotsinvokeforeach{19,29}{\addplot[g6] table[x=t, y=c#1] {\andrewsA};}
\pgfplotsinvokeforeach{26}{\addplot[g6] table[x=t, y=c#1] {\andrewsB};}
\pgfplotsinvokeforeach{7,18}{\addplot[g6] table[x=t, y=c#1] {\andrewsC};}
\pgfplotsinvokeforeach{18}{\addplot[g6] table[x=t, y=c#1] {\andrewsD};}
% class 7
\pgfplotsinvokeforeach{23,28}{\addplot[g7] table[x=t, y=c#1] {\andrewsA};}
\pgfplotsinvokeforeach{30}{\addplot[g7] table[x=t, y=c#1] {\andrewsB};}
\pgfplotsinvokeforeach{28}{\addplot[g7] table[x=t, y=c#1] {\andrewsC};}
\addlegendimage{v2, line width=0.8pt, opacity=0.35}
\addlegendentry{2}
\addlegendimage{v3, line width=0.8pt, opacity=0.35}
\addlegendentry{3}
\addlegendimage{v4, line width=0.8pt, opacity=0.35}
\addlegendentry{4}
\addlegendimage{v5, line width=0.8pt, opacity=0.3}
\addlegendentry{5}
\addlegendimage{v6, line width=0.8pt, opacity=0.4}
\addlegendentry{6}
\addlegendimage{v7, line width=0.8pt, opacity=0.5}
\addlegendentry{7}
\draw[axgray, line width=0.7pt] (axis cs:-3.465,-10) -- (axis cs:-3.465,10);
\draw[axgray, line width=0.7pt] (axis cs:-3.1416,-10.955) -- (axis cs:3.1416,-10.955);
\end{axis}
\end{tikzpicture}
\end{document}
